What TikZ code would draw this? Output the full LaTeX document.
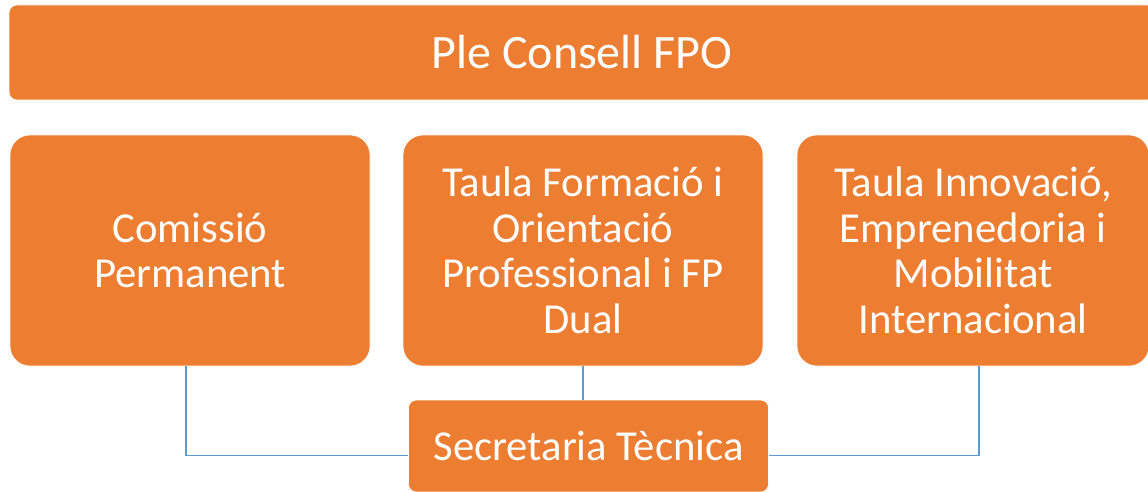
\documentclass[tikz,border=0pt]{standalone}
\usepackage{fontspec}
\setmainfont{Carlito}
\usetikzlibrary{calc}
\definecolor{boxorange}{HTML}{ED7D31}
\definecolor{lineblue}{HTML}{5B9BD5}
\tikzset{
  box/.style={fill=boxorange, draw=white, line width=0.6pt, text=white, align=center,
    inner sep=0pt, font=\fontsize{42.7}{45.5}\selectfont},
  conn/.style={draw=lineblue, line width=1.1pt}
}
\begin{document}
\begin{tikzpicture}[x=1pt,y=-1pt]
\useasboundingbox (0,0) rectangle (1148,492);
\clip (0,0) rectangle (1148,492);
\node[box, rounded corners=8pt, minimum width=1146pt, minimum height=95pt, font=\fontsize{48}{52}\selectfont] (ple) at (582,52.5) {Ple Consell FPO};
\node[box, rounded corners=20pt, minimum width=360pt, minimum height=231pt] (com) at (190,250.5) {Comissió\\Permanent};
\node[box, rounded corners=20pt, minimum width=360pt, minimum height=231pt] (form) at (583,250.5) {Taula Formació i\\Orientació\\Professional i FP\\Dual};
\node[box, rounded corners=20pt, minimum width=352pt, minimum height=231pt] (inno) at (973,250.5) {Taula Innovació,\\Emprenedoria i\\Mobilitat\\Internacional};
\node[box, rounded corners=8pt, minimum width=360pt, minimum height=92pt] (sec) at (588.5,446) {Secretaria Tècnica};
\coordinate (lc) at ($(com.south)+(-4,0)$);
\coordinate (rc) at ($(inno.south)+(6,0)$);
\draw[conn] (lc) |- ($(sec.west)+(0,9.5)$);
\draw[conn] (rc) |- ($(sec.east)+(0,9.5)$);
\draw[conn] (form.south) -- (form.south |- sec.north);
\end{tikzpicture}
\end{document}
